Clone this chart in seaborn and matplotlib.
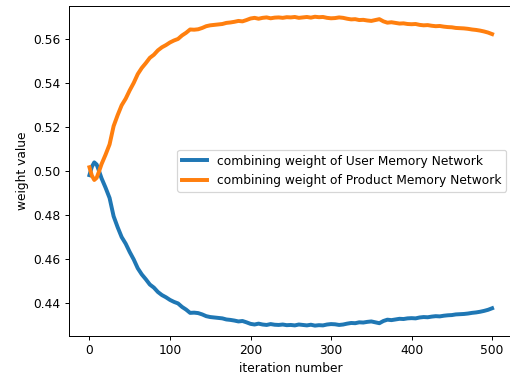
import matplotlib
matplotlib.use("Agg")
import matplotlib.pyplot as plt
import seaborn as sns
import pandas as pd

# Training iterations at which the combining weights were recorded
iterations = [0, 3, 6, 9, 12, 15] + list(range(20, 501, 5))

# Combining weight assigned to the user memory network
user_weight = [
    0.4982, 0.5020, 0.5040, 0.5030, 0.5000, 0.4968,
    0.4925, 0.4878, 0.4795, 0.4745, 0.4700, 0.4670, 0.4632, 0.4598, 0.4558, 0.4530,
    0.4508, 0.4484, 0.4470, 0.4450, 0.4436, 0.4426, 0.4414, 0.4405, 0.4398, 0.4382,
    0.4370, 0.4355, 0.4356, 0.4354, 0.4348, 0.4340, 0.4336, 0.4334, 0.4332, 0.4330,
    0.4325, 0.4323, 0.4320, 0.4316, 0.4318, 0.4312, 0.4305, 0.4302, 0.4306, 0.4302,
    0.4300, 0.4304, 0.4301, 0.4300, 0.4302, 0.4299, 0.4300, 0.4298, 0.4302, 0.4300,
    0.4298, 0.4301, 0.4297, 0.4299, 0.4298, 0.4302, 0.4304, 0.4303, 0.4300, 0.4302,
    0.4306, 0.4309, 0.4308, 0.4312, 0.4311, 0.4314, 0.4316, 0.4312, 0.4308, 0.4318,
    0.4324, 0.4322, 0.4325, 0.4328, 0.4327, 0.4330, 0.4331, 0.4330, 0.4334, 0.4336,
    0.4335, 0.4338, 0.4340, 0.4339, 0.4342, 0.4344, 0.4345, 0.4348, 0.4349, 0.4350,
    0.4352, 0.4355, 0.4357, 0.4360, 0.4364, 0.4369, 0.4376,
]

# Combining weight assigned to the product memory network
product_weight = [
    0.5018, 0.4980, 0.4960, 0.4970, 0.5000, 0.5032,
    0.5075, 0.5122, 0.5205, 0.5255, 0.5300, 0.5330, 0.5368, 0.5402, 0.5442, 0.5470,
    0.5492, 0.5516, 0.5530, 0.5550, 0.5564, 0.5574, 0.5586, 0.5595, 0.5602, 0.5618,
    0.5630, 0.5645, 0.5644, 0.5646, 0.5652, 0.5660, 0.5664, 0.5666, 0.5668, 0.5670,
    0.5675, 0.5677, 0.5680, 0.5684, 0.5682, 0.5688, 0.5695, 0.5698, 0.5694, 0.5698,
    0.5700, 0.5696, 0.5699, 0.5700, 0.5698, 0.5701, 0.5700, 0.5702, 0.5698, 0.5700,
    0.5702, 0.5699, 0.5703, 0.5701, 0.5702, 0.5698, 0.5696, 0.5697, 0.5700, 0.5698,
    0.5694, 0.5691, 0.5692, 0.5688, 0.5689, 0.5686, 0.5684, 0.5688, 0.5692, 0.5682,
    0.5676, 0.5678, 0.5675, 0.5672, 0.5673, 0.5670, 0.5669, 0.5670, 0.5666, 0.5664,
    0.5665, 0.5662, 0.5660, 0.5661, 0.5658, 0.5656, 0.5655, 0.5652, 0.5651, 0.5650,
    0.5648, 0.5645, 0.5643, 0.5640, 0.5636, 0.5631, 0.5624,
]

series_labels = [
    "combining weight of User Memory Network",
    "combining weight of Product Memory Network",
]

assert len(iterations) == len(user_weight) == len(product_weight)

df = pd.DataFrame({
    "iteration": iterations,
    "user": user_weight,
    "product": product_weight,
})

DPI = 88.7
fig = plt.figure(figsize=(510 / DPI, 379 / DPI), dpi=DPI)
ax = fig.add_axes([0.1359, 0.1142, 0.8685, 0.8700])

sns.lineplot(data=df, x="iteration", y="user", ax=ax, color="#1f77b4",
             linewidth=3.2, label=series_labels[0])
sns.lineplot(data=df, x="iteration", y="product", ax=ax, color="#ff7f0e",
             linewidth=3.2, label=series_labels[1])

ax.set_xlim(-25, 525)
ax.set_ylim(0.4251, 0.5752)
ax.set_xticks([0, 100, 200, 300, 400, 500])
ax.set_yticks([0.44, 0.46, 0.48, 0.50, 0.52, 0.54, 0.56])
ax.set_xlabel("iteration number")
ax.set_ylabel("weight value")
ax.legend(loc="center right")

fig.savefig("out.png", dpi=DPI)
